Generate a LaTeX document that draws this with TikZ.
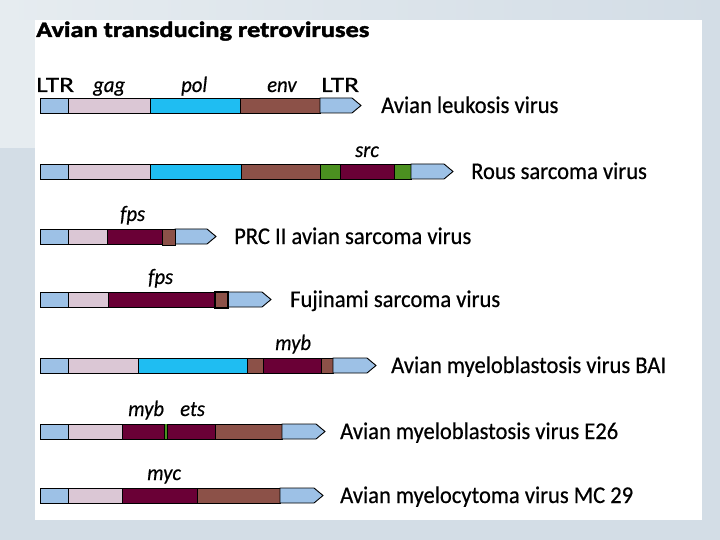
\documentclass[tikz,border=0pt]{standalone}
\usepackage{fontspec}
\setmainfont{Carlito}[FakeStretch=0.94,FakeBold=0.5]
\newfontfamily\titlefont{Carlito}[UprightFont=*-Bold,FakeStretch=1.2,FakeBold=2]
\newfontfamily\ltrfont{Carlito}[FakeStretch=1.25,FakeBold=0.5]
\definecolor{bgc}{HTML}{D3DDE6}
\definecolor{bgl}{HTML}{E6ECF0}
\definecolor{ltr}{HTML}{9DC1E6}
\definecolor{gagc}{HTML}{DBC7D5}
\definecolor{polc}{HTML}{1FBDF2}
\definecolor{envc}{HTML}{8C5148}
\definecolor{oncc}{HTML}{6A0036}
\definecolor{grnc}{HTML}{4B9020}
\newcommand\gseg[4]{\draw[segline,fill=#4] (#1,#3) rectangle (#2,#3+15);}
\newcommand\gtip[3]{\draw[segline,fill=ltr] (#1,#3) -- (#2,#3) -- (#2+9,#3+7.5) -- (#2,#3+15) -- (#1,#3+15) -- cycle;}
\begin{document}
\begin{tikzpicture}[x=1pt,y=-1pt,
  segline/.style={draw=black,line width=0.9pt},
  vname/.style={anchor=base west,inner sep=0pt,font=\fontsize{24}{26}\selectfont},
  gname/.style={anchor=base west,inner sep=0pt,font=\fontsize{22}{24}\selectfont\itshape},
  lname/.style={anchor=base west,inner sep=0pt,font=\fontsize{22}{24}\selectfont\ltrfont}]
\useasboundingbox (0,0) rectangle (720,540);
\fill[bgc] (0,0) rectangle (720,540);
\shade[left color=bgl,right color=bgc] (0,0) rectangle (720,20);
\fill[bgl] (0,20) rectangle (35,148);
\fill[white] (35,20) rectangle (702,520);

\node[anchor=base west,inner sep=0pt,font=\fontsize{22}{24}\selectfont\titlefont] (title) at (36,37) {Avian transducing retroviruses};

% header labels
\node[lname] (ltrA) at (36,92) {LTR};
\node[gname] (gagL) at (93,92) {gag};
\node[gname] (polL) at (181,92) {pol};
\node[gname] (envL) at (267,92) {env};
\node[lname] (ltrB) at (321,92) {LTR};

% row 1
\gseg{40}{68}{98}{ltr}
\gseg{68}{150}{98}{gagc}
\gseg{150}{240}{98}{polc}
\gseg{240}{320}{98}{envc}
\gtip{320}{352}{98}
\node[vname] (v1) at (381,113) {Avian leukosis virus};

% row 2
\node[gname] (srcL) at (355,157) {src};
\gseg{40}{68}{164}{ltr}
\gseg{68}{150}{164}{gagc}
\gseg{150}{241}{164}{polc}
\gseg{241}{320}{164}{envc}
\gseg{320}{340}{164}{grnc}
\gseg{340}{394}{164}{oncc}
\gseg{394}{411}{164}{grnc}
\gtip{411}{444}{164}
\node[vname] (v2) at (471,179) {Rous sarcoma virus};

% row 3
\node[gname] (fps1) at (120,221) {fps};
\gseg{40}{68}{229}{ltr}
\gseg{68}{107}{229}{gagc}
\gseg{107}{162}{229}{oncc}
\gtip{175}{207}{229}
\draw[segline,fill=envc] (162,229) rectangle (175,245);
\node[vname] (v3) at (234,244) {PRC II avian sarcoma virus};

% row 4
\node[gname] (fps2) at (148,284) {fps};
\gseg{40}{68}{292}{ltr}
\gseg{68}{108}{292}{gagc}
\gseg{108}{215}{292}{oncc}
\gtip{228}{262}{292}
\draw[draw=black,line width=1.5pt,fill=envc] (215,292) rectangle (228,308);
\node[vname] (v4) at (290,307) {Fujinami sarcoma virus};

% row 5
\node[gname] (myb1) at (275,350) {myb};
\gseg{40}{68}{358}{ltr}
\gseg{68}{138}{358}{gagc}
\gseg{138}{247}{358}{polc}
\gseg{247}{263}{358}{envc}
\gseg{263}{321}{358}{oncc}
\gseg{321}{333}{358}{envc}
\gtip{333}{367}{358}
\node[vname] (v5) at (391,373) {Avian myeloblastosis virus BAI};

% row 6
\node[gname] (myb2) at (128,416) {myb};
\node[gname] (etsL) at (180,416) {ets};
\gseg{40}{68}{424}{ltr}
\gseg{68}{122}{424}{gagc}
\gseg{122}{215}{424}{oncc}
\gseg{215}{282}{424}{envc}
\gtip{282}{316}{424}
\draw[black,line width=0.6pt] (164.4,424.4) -- (164.4,438.6) (167.6,424.4) -- (167.6,438.6);
\fill[grnc] (164.7,424.45) rectangle (167.3,438.55);
\node[vname] (v6) at (340,439) {Avian myeloblastosis virus E26};

% row 7
\node[gname] (mycL) at (147,480) {myc};
\gseg{40}{68}{488}{ltr}
\gseg{68}{122}{488}{gagc}
\gseg{122}{197}{488}{oncc}
\gseg{197}{280}{488}{envc}
\gtip{280}{314}{488}
\node[vname] (v7) at (340,503) {Avian myelocytoma virus MC 29};
\end{tikzpicture}
\end{document}
